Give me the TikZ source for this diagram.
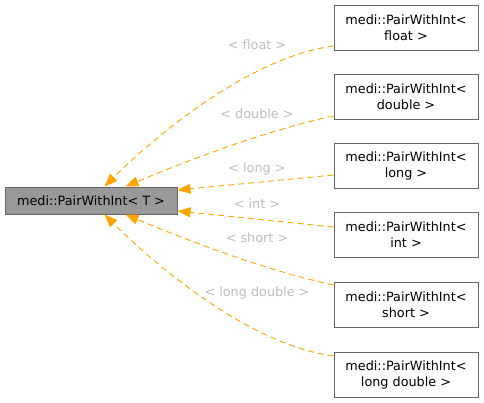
\documentclass[tikz,border=0pt]{standalone}
\usepackage{fontspec}
\setmainfont{DejaVu Sans}
\usetikzlibrary{arrows.meta,calc}
\definecolor{edgeorange}{HTML}{FFA500}
\definecolor{boxborder}{HTML}{666666}
\definecolor{mainfill}{HTML}{999999}
\definecolor{labelgrey}{HTML}{BEBEBE}
\begin{document}
\begin{tikzpicture}[x=1pt,y=-1pt,
  base/.style={draw=boxborder, line width=1pt, inner sep=0pt, align=center, font=\fontsize{12.8}{16}\selectfont},
  mainbox/.style={base, fill=mainfill, minimum width=172pt, minimum height=27pt},
  childbox/.style={base, fill=white, minimum width=144pt, minimum height=45pt},
  inherit/.style={draw=edgeorange, line width=0.9pt, dash pattern=on 6pt off 4pt, -{Triangle[length=13pt,width=10pt]}},
  elabel/.style={text=labelgrey, inner sep=0pt, font=\fontsize{12.8}{16}\selectfont}
]
\useasboundingbox (0,0) rectangle (484,402);
\fill[white] (0,0) rectangle (484,402);

\node[mainbox] (main) at (91,200.5) {medi::PairWithInt< T >};
\node[childbox] (cf) at (406,27.5) {medi::PairWithInt<\\float >};
\node[childbox] (cd) at (406,96.5) {medi::PairWithInt<\\double >};
\node[childbox] (cl) at (406,165.5) {medi::PairWithInt<\\long >};
\node[childbox] (ci) at (406,235) {medi::PairWithInt<\\int >};
\node[childbox] (cs) at (406,305) {medi::PairWithInt<\\short >};
\node[childbox] (cld) at (406,374.5) {medi::PairWithInt<\\long double >};

\draw[inherit] ($(cf.west)+(0,18.5)$) .. controls +(-90,12) and +(40,-40) .. ($(main.north west)+(100,0)$);
\draw[inherit] ($(cd.west)+(0,19.5)$) .. controls +(-70,15) and +(60,-25) .. ($(main.north west)+(121,0)$);
\draw[inherit] ($(cl.west)+(0,9.5)$) -- ($(main.east)+(0,-10.5)$);
\draw[inherit] ($(ci.west)+(0,-8)$) -- ($(main.east)+(0,10.5)$);
\draw[inherit] ($(cs.west)+(0,-20)$) .. controls +(-70,-15) and +(60,25) .. ($(main.south west)+(121,0)$);
\draw[inherit] ($(cld.west)+(0,-18.5)$) .. controls +(-90,-12) and +(40,40) .. ($(main.south west)+(100,0)$);

\node[elabel] (lf) at (257,45) {< float >};
\node[elabel] (ld) at (257,114) {< double >};
\node[elabel] (ll) at (257,169) {< long >};
\node[elabel] (li) at (257,204) {< int >};
\node[elabel] (ls) at (257,238) {< short >};
\node[elabel] (lld) at (257,293) {< long double >};
\end{tikzpicture}
\end{document}
